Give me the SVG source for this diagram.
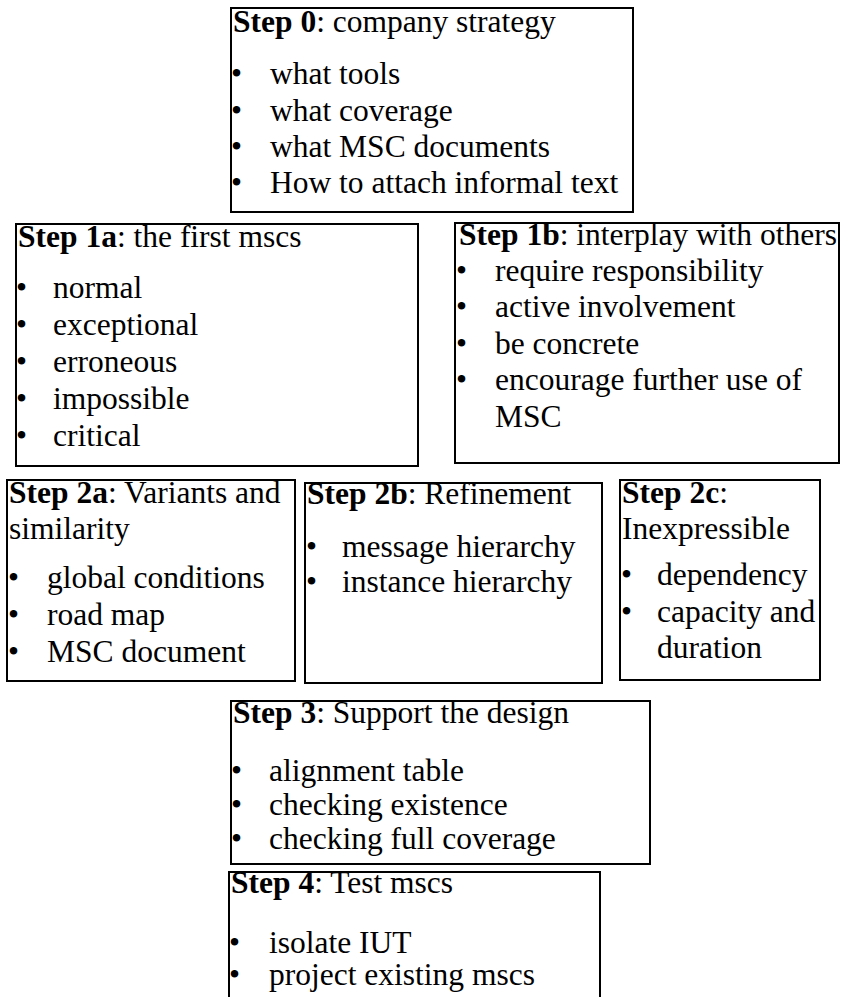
<svg xmlns="http://www.w3.org/2000/svg" width="850" height="997" viewBox="0 0 850 997">
  <style>
    .box { fill: #ffffff; stroke: #000000; stroke-width: 2; }
    .open { fill: none; stroke: #000000; stroke-width: 2; }
    text { font-family: "Liberation Serif", "Times New Roman", serif; font-size: 31.5px; fill: #000000; }
    .b { font-weight: bold; }
  </style>
  <rect width="850" height="997" fill="#ffffff"/>

  <g id="step0">
    <rect class="box" x="231" y="8" width="402" height="204"/>
    <text x="233" y="32"><tspan class="b">Step 0</tspan>: company strategy</text>
    <text x="231" y="84">•</text><text x="270" y="84">what tools</text>
    <text x="231" y="121">•</text><text x="270" y="121">what coverage</text>
    <text x="231" y="157">•</text><text x="270" y="157">what MSC documents</text>
    <text x="231" y="193">•</text><text x="270" y="193">How to attach informal text</text>
  </g>

  <g id="step1a">
    <rect class="box" x="16" y="224" width="402" height="242"/>
    <text x="18" y="247"><tspan class="b">Step 1a</tspan>: the first mscs</text>
    <text x="16" y="298">•</text><text x="53" y="298">normal</text>
    <text x="16" y="335">•</text><text x="53" y="335">exceptional</text>
    <text x="16" y="372">•</text><text x="53" y="372">erroneous</text>
    <text x="16" y="409">•</text><text x="53" y="409">impossible</text>
    <text x="16" y="446">•</text><text x="53" y="446">critical</text>
  </g>

  <g id="step1b">
    <rect class="box" x="455" y="223" width="384" height="240"/>
    <text x="459" y="245"><tspan class="b">Step 1b</tspan>: interplay with others</text>
    <text x="456" y="281">•</text><text x="495" y="281">require responsibility</text>
    <text x="456" y="317">•</text><text x="495" y="317">active involvement</text>
    <text x="456" y="354">•</text><text x="495" y="354">be concrete</text>
    <text x="456" y="390">•</text><text x="495" y="390">encourage further use of</text>
    <text x="495" y="427">MSC</text>
  </g>

  <g id="step2a">
    <rect class="box" x="7" y="480" width="288" height="201"/>
    <text x="9" y="503"><tspan class="b">Step 2a</tspan>: Variants and</text>
    <text x="9" y="539">similarity</text>
    <text x="8" y="588">•</text><text x="47" y="588">global conditions</text>
    <text x="8" y="625">•</text><text x="47" y="625">road map</text>
    <text x="8" y="662">•</text><text x="47" y="662">MSC document</text>
  </g>

  <g id="step2b">
    <rect class="box" x="305" y="483" width="297" height="200"/>
    <text x="307" y="504"><tspan class="b">Step 2b</tspan>: Refinement</text>
    <text x="306" y="557">•</text><text x="342" y="557">message hierarchy</text>
    <text x="306" y="592">•</text><text x="342" y="592">instance hierarchy</text>
  </g>

  <g id="step2c">
    <rect class="box" x="620" y="480" width="200" height="200"/>
    <text x="622" y="503"><tspan class="b">Step 2c</tspan>:</text>
    <text x="622" y="539">Inexpressible</text>
    <text x="621" y="585">•</text><text x="657" y="585">dependency</text>
    <text x="621" y="622">•</text><text x="657" y="622">capacity and</text>
    <text x="657" y="658">duration</text>
  </g>

  <g id="step3">
    <rect class="box" x="231" y="701" width="419" height="163"/>
    <text x="233" y="723"><tspan class="b">Step 3</tspan>: Support the design</text>
    <text x="231" y="781">•</text><text x="269" y="781">alignment table</text>
    <text x="231" y="815">•</text><text x="269" y="815">checking existence</text>
    <text x="231" y="849">•</text><text x="269" y="849">checking full coverage</text>
  </g>

  <g id="step4">
    <!-- box runs past the lower page edge, so only three sides are drawn -->
    <path class="open" d="M229 1000 V872 H600 V1000"/>
    <text x="231" y="893"><tspan class="b">Step 4</tspan>: Test mscs</text>
    <text x="229" y="953">•</text><text x="269" y="953">isolate IUT</text>
    <text x="229" y="985">•</text><text x="269" y="985">project existing mscs</text>
  </g>

  <g id="connectors"></g>
</svg>
